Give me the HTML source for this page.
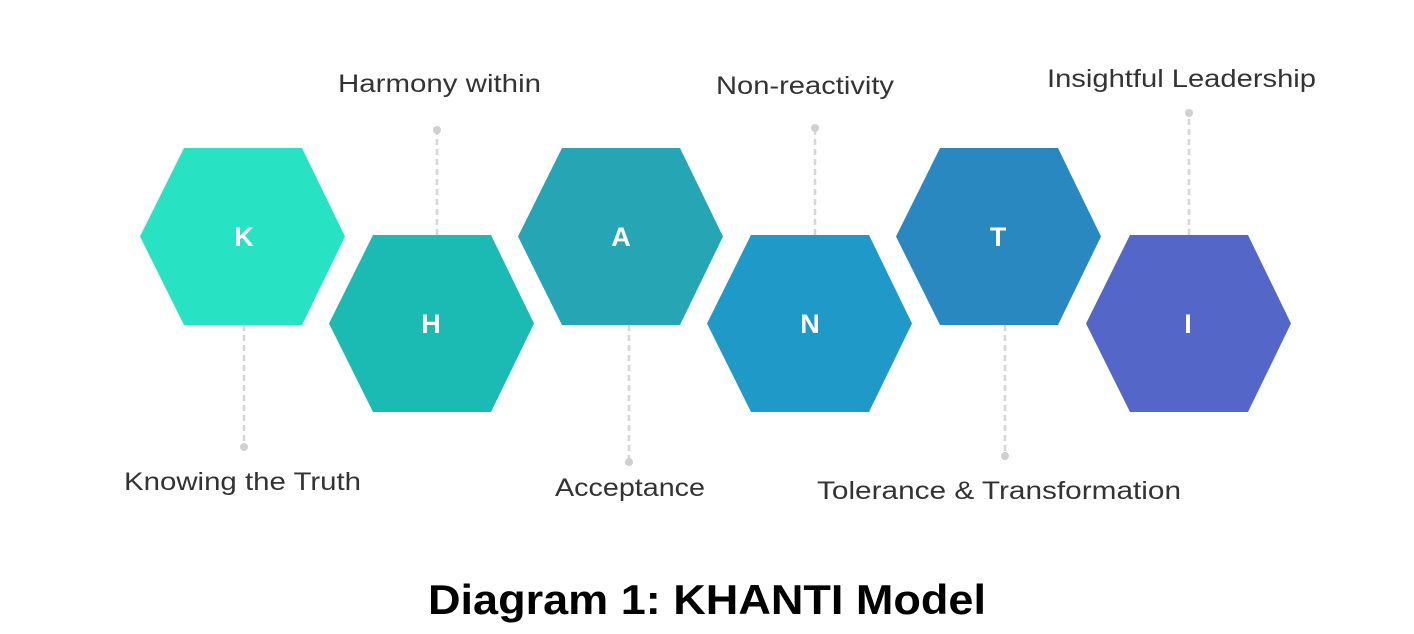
<!DOCTYPE html>
<html><head><meta charset="utf-8"><style>
html,body{margin:0;padding:0;background:#fff;width:1414px;height:634px;overflow:hidden}
</style></head><body>
<svg width="1414" height="634" viewBox="0 0 1414 634" xmlns="http://www.w3.org/2000/svg">
<defs><polygon id="hx" points="0,88.5 44,0 162,0 205,88.5 162,177 44,177"/></defs>
<g stroke="#d6d6d6" stroke-width="2.5" stroke-dasharray="6,4" fill="none">
<line x1="244" y1="325" x2="244" y2="447"/>
<line x1="437" y1="235" x2="437" y2="130"/>
<line x1="629" y1="325" x2="629" y2="462"/>
<line x1="815" y1="235" x2="815" y2="128"/>
<line x1="1005" y1="325" x2="1005" y2="456"/>
<line x1="1189" y1="235" x2="1189" y2="113"/>
</g>
<g fill="#d0d0d0">
<circle cx="244" cy="447" r="4"/><circle cx="437" cy="130" r="4"/>
<circle cx="629" cy="462" r="4"/><circle cx="815" cy="128" r="4"/>
<circle cx="1005" cy="456" r="4"/><circle cx="1189" cy="113" r="4"/>
</g>
<use href="#hx" x="140" y="148" fill="#27e3c3"/>
<use href="#hx" x="329" y="235" fill="#1bbab3"/>
<use href="#hx" x="518" y="148" fill="#26a6b5"/>
<use href="#hx" x="707" y="235" fill="#1f99c7"/>
<use href="#hx" x="896" y="148" fill="#2a88c0"/>
<use href="#hx" x="1086" y="235" fill="#5467c9"/>
<g font-family="Liberation Sans, sans-serif" font-size="27" fill="#fff" text-anchor="middle" font-weight="bold">
<text x="244" y="246">K</text><text x="431" y="333">H</text><text x="621" y="246">A</text>
<text x="810" y="333">N</text><text x="998" y="246">T</text><text x="1188" y="333">I</text>
</g>
<g font-family="Liberation Sans, sans-serif" font-size="25" fill="#333" lengthAdjust="spacingAndGlyphs">
<text x="124" y="490" textLength="237" lengthAdjust="spacingAndGlyphs">Knowing the Truth</text>
<text x="338" y="92" textLength="203" lengthAdjust="spacingAndGlyphs">Harmony within</text>
<text x="555" y="496" textLength="150" lengthAdjust="spacingAndGlyphs">Acceptance</text>
<text x="716" y="94" textLength="178" lengthAdjust="spacingAndGlyphs">Non-reactivity</text>
<text x="817" y="499" textLength="364" lengthAdjust="spacingAndGlyphs">Tolerance &amp; Transformation</text>
<text x="1047" y="87" textLength="269" lengthAdjust="spacingAndGlyphs">Insightful Leadership</text>
</g>
<text x="428" y="614" textLength="558" lengthAdjust="spacingAndGlyphs" font-family="Liberation Sans, sans-serif" font-size="42" font-weight="bold" fill="#000">Diagram 1: KHANTI Model</text>
</svg>
</body></html>
